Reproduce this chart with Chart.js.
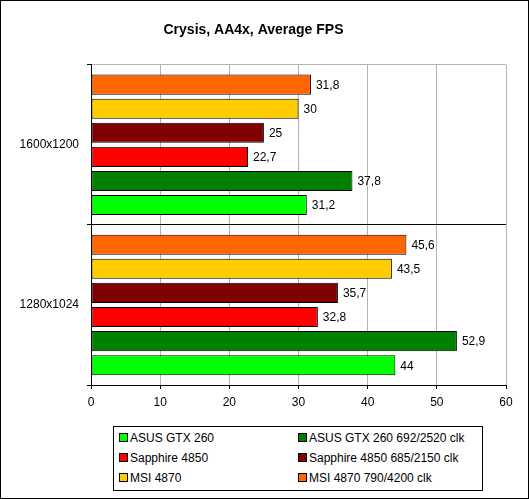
<!DOCTYPE html>
<html>
<head>
<meta charset="utf-8">
<script src="https://cdn.jsdelivr.net/npm/chart.js@4/dist/chart.umd.min.js"></script>
<style>
    body { margin: 0; background: #fff; }
    #wrap { position: relative; width: 529px; height: 499px; border: 1px solid #000; box-sizing: border-box; }
    #chart { position: absolute; left: 0; top: 0; }
    #legend {
        position: absolute; left: 112px; top: 425px; width: 370px; height: 65px;
        border: 1px solid #000; box-sizing: border-box; background: #fff;
        font: 12px "Liberation Sans", Arial, sans-serif; color: #000;
    }
    .item { position: absolute; height: 14px; line-height: 14px; white-space: nowrap; }
    .item i { display: inline-block; width: 7px; height: 7px; border: 1px solid #000; margin-right: 2px; vertical-align: 0px; }
</style>
</head>
<body>
<div id="wrap">
    <canvas id="chart" width="529" height="499"></canvas>
    <div id="legend"></div>
</div>
<script>
    // Данные графика
    const resolutions = ['1600x1200', '1280x1024'];
    const seriesNames = ['ASUS GTX 260', 'ASUS GTX 260 692/2520 clk', 'Sapphire 4850', 'Sapphire 4850 685/2150 clk', 'MSI 4870', 'MSI 4870 790/4200 clk'];
    const seriesColors = ['#00ff00', '#008000', '#ff0000', '#800000', '#ffcc00', '#ff6600'];
    const asusGtx260 = [31.2, 44];
    const asusGtx260Oc = [37.8, 52.9];
    const sapphire4850 = [22.7, 32.8];
    const sapphire4850Oc = [25, 35.7];
    const msi4870 = [30, 43.5];
    const msi4870Oc = [31.8, 45.6];
    const xTicks = [0, 10, 20, 30, 40, 50, 60];

    const seriesValues = [asusGtx260, asusGtx260Oc, sapphire4850, sapphire4850Oc, msi4870, msi4870Oc];
    const fontFamily = '"Liberation Sans", Arial, sans-serif';

    // Верхний бар в группе - последняя серия, поэтому порядок обратный
    const datasets = seriesNames.map((name, i) => ({
        label: name,
        data: seriesValues[i],
        backgroundColor: seriesColors[i],
        borderColor: '#000',
        borderWidth: 1,
        borderSkipped: false,
        barPercentage: 0.833,
        categoryPercentage: 0.903
    })).reverse();

    // Подписи значений справа от столбцов
    const valueLabels = {
        id: 'valueLabels',
        afterDatasetsDraw(chart) {
            const ctx = chart.ctx;
            ctx.save();
            ctx.font = '12px ' + fontFamily;
            ctx.fillStyle = '#000';
            ctx.textAlign = 'left';
            ctx.textBaseline = 'middle';
            chart.data.datasets.forEach((ds, di) => {
                chart.getDatasetMeta(di).data.forEach((bar, j) => {
                    const txt = String(ds.data[j]).replace('.', ',');
                    ctx.fillText(txt, bar.x + 5, bar.y + 1);
                });
            });
            ctx.restore();
        }
    };

    new Chart(document.getElementById('chart'), {
        type: 'bar',
        data: { labels: resolutions, datasets: datasets },
        options: {
            indexAxis: 'y',
            responsive: false,
            animation: false,
            layout: { padding: { top: 0, right: 24, bottom: 0, left: 0 } },
            plugins: {
                legend: { display: false },
                tooltip: { enabled: false },
                title: {
                    display: true,
                    text: 'Crysis, AA4x, Average FPS',
                    color: '#000',
                    font: { family: fontFamily, size: 14, weight: 'bold', lineHeight: 1.2 },
                    padding: { top: 21, bottom: 26 }
                }
            },
            scales: {
                x: {
                    min: xTicks[0],
                    max: xTicks[xTicks.length - 1],
                    afterBuildTicks: scale => { scale.ticks = xTicks.map(v => ({ value: v })); },
                    ticks: { color: '#000', font: { family: fontFamily, size: 12 }, padding: 6 },
                    grid: { color: '#b4b4b4', tickColor: '#000', tickLength: 4 },
                    border: { color: '#000' },
                    afterFit: scale => { scale.height = 115; }
                },
                y: {
                    ticks: { color: '#000', font: { family: fontFamily, size: 12 }, padding: 8 },
                    grid: {
                        offset: true,
                        color: ctx => ctx.index === 0 ? '#b4b4b4' : '#000',
                        tickColor: '#000',
                        tickLength: 4
                    },
                    border: { color: '#000' },
                    afterFit: scale => { scale.width = 90; }
                }
            }
        },
        plugins: [valueLabels]
    });

    // Легенда в две колонки
    const legend = document.getElementById('legend');
    seriesNames.forEach((name, i) => {
        const el = document.createElement('div');
        el.className = 'item';
        el.style.left = (i % 2 === 0 ? 5 : 184) + 'px';
        el.style.top = (4 + Math.floor(i / 2) * 20) + 'px';
        el.innerHTML = '<i style="background:' + seriesColors[i] + '"></i>' + name;
        legend.appendChild(el);
    });
</script>
</body>
</html>
